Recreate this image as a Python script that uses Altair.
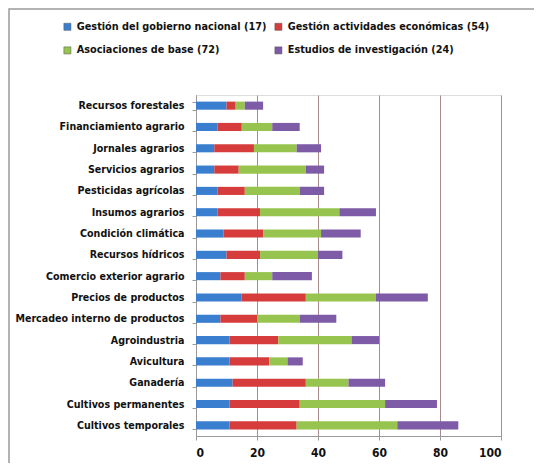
import altair as alt
import pandas as pd

categories = [
    "Recursos forestales", "Financiamiento agrario", "Jornales agrarios",
    "Servicios agrarios", "Pesticidas agrícolas", "Insumos agrarios",
    "Condición climática", "Recursos hídricos", "Comercio exterior agrario",
    "Precios de productos", "Mercadeo interno de productos", "Agroindustria",
    "Avicultura", "Ganadería", "Cultivos permanentes", "Cultivos temporales",
]
series = [
    "Gestión del gobierno nacional (17)",
    "Gestión actividades económicas (54)",
    "Asociaciones de base (72)",
    "Estudios de investigación (24)",
]
gobierno =      [10, 7, 6, 6, 7, 7, 9, 10, 8, 15, 8, 11, 11, 12, 11, 11]
actividades =   [3, 8, 13, 8, 9, 14, 13, 11, 8, 21, 12, 16, 13, 24, 23, 22]
asociaciones =  [3, 10, 14, 22, 18, 26, 19, 19, 9, 23, 14, 24, 6, 14, 28, 33]
estudios =      [6, 9, 8, 6, 8, 12, 13, 8, 13, 17, 12, 9, 5, 12, 17, 20]
colors = ["#3a7fcf", "#d63c3c", "#97c44e", "#7d5ba6"]
x_ticks = [0, 20, 40, 60, 80, 100]

rows = []
for vals, s_idx in zip([gobierno, actividades, asociaciones, estudios], range(4)):
    for c, v in zip(categories, vals):
        rows.append({"cat": c, "serie": series[s_idx], "ord": s_idx, "val": v})
df = pd.DataFrame(rows)

font = "DejaVu Sans Condensed"

bars = alt.Chart(df).mark_bar().encode(
    y=alt.Y("cat:N", sort=categories, title=None,
            scale=alt.Scale(paddingInner=0.62, paddingOuter=0.31),
            axis=alt.Axis(labelFont=font, labelFontSize=10.6, labelFontWeight="bold",
                          labelColor="#111111", labelPadding=8, labelLimit=300,
                          domainColor="#9a9a9a", tickColor="#9a9a9a", tickSize=4,
                          tickBand="extent", grid=False)),
    x=alt.X("val:Q", stack="zero", title=None,
            scale=alt.Scale(domain=[0, 100]),
            axis=alt.Axis(values=x_ticks, labelFont=font, labelFontSize=12,
                          labelFontWeight="bold", labelColor="#111111", labelPadding=7,
                          domainColor="#9a9a9a", tickColor="#9a9a9a", tickSize=4,
                          grid=True, gridColor="#a88c8c", gridWidth=1)),
    color=alt.Color("serie:N", sort=series,
                    scale=alt.Scale(domain=series, range=colors),
                    legend=alt.Legend(title=None, orient="none", legendX=-134, legendY=-74,
                                      direction="horizontal",
                                      columns=2, columnPadding=6, rowPadding=12,
                                      symbolType="square", symbolSize=50, symbolOffset=0,
                                      labelOffset=4,
                                      symbolStrokeWidth=0.5, symbolStrokeColor="#555555",
                                      labelFont=font, labelFontSize=10.8,
                                      labelFontWeight="bold", labelColor="#111111",
                                      labelLimit=300, gridAlign="each")),
    order=alt.Order("ord:Q"),
)

frame = alt.Chart(pd.DataFrame({"a": [0]})).mark_rect(
    fill=None, stroke="#9a9a9a", strokeWidth=1.5, clip=False
).encode(
    x=alt.value(-187), x2=alt.value(380), y=alt.value(-86), y2=alt.value(420)
)

chart = alt.layer(frame, bars).properties(
    width=305, height=341,
    padding={"left": 188, "top": 87, "right": 33, "bottom": 27},
    autosize=alt.AutoSizeParams(type="none"),
).configure_view(stroke=None).configure(background="white")

chart.save("out.html", embed_options={"renderer": "svg", "actions": False})
